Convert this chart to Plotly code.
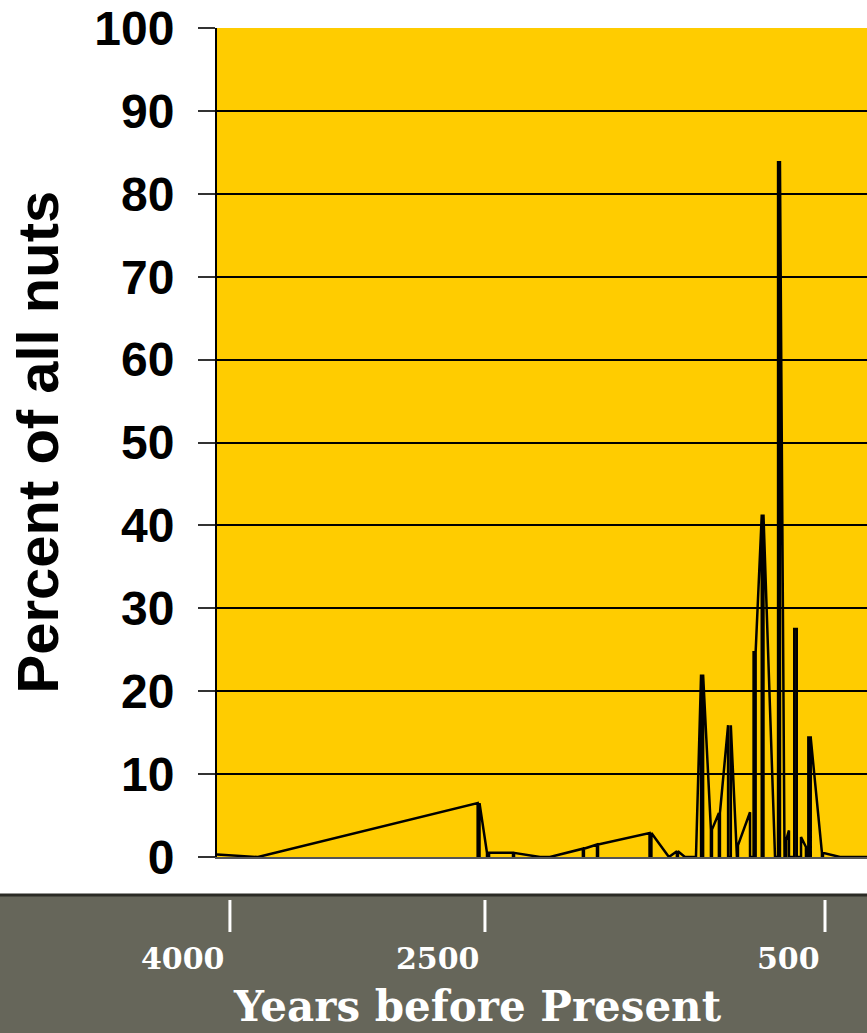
import plotly.graph_objects as go

# Nut record: years before present and percent of all nuts (polyline vertices)
years = [4076, 3835, 2543, 2543, 2532, 2532, 2488, 2488, 2476, 2476,
         2335, 2335, 2329, 2329, 2176, 2118, 1924, 1924, 1918, 1918,
         1841, 1841, 1835, 1835, 1532, 1532, 1521, 1521, 1418, 1371,
         1371, 1365, 1365, 1324, 1259, 1229, 1229, 1217, 1217, 1171,
         1171, 1165, 1165, 1124, 1124, 1118, 1118, 1070, 1070, 1054,
         1054, 1018, 1018, 1012, 1012, 941, 941, 920, 920, 908,
         908, 908, 872, 872, 862, 862, 794, 776, 776, 765,
         765, 765, 738, 729, 729, 712, 712, 681, 681, 666,
         666, 641, 641, 612, 612, 598, 598, 584, 584, 584,
         518, 518, 512, 512, 412, 253]
pct = [0.3, 0.0, 6.5, 0.0, 0.0, 6.5, 0.5, 0.0, 0.0, 0.5,
       0.5, 0.0, 0.0, 0.5, 0.0, 0.0, 1.0, 0.0, 0.0, 1.0,
       1.5, 0.0, 0.0, 1.5, 2.9, 0.0, 0.0, 2.9, 0.0, 0.7,
       0.0, 0.0, 0.7, 0.0, 0.0, 22.0, 0.0, 0.0, 22.0, 3.3,
       0.0, 0.0, 3.3, 5.3, 0.0, 0.0, 5.3, 15.9, 0.0, 0.0,
       15.9, 1.4, 0.0, 0.0, 1.4, 5.4, 0.0, 0.0, 24.7, 24.7,
       0.0, 24.7, 41.3, 0.0, 0.0, 41.3, 0.0, 0.0, 83.8, 83.8,
       0.0, 83.8, 0.0, 0.0, 2.0, 3.2, 0.0, 0.0, 27.5, 27.5,
       0.0, 0.0, 2.4, 1.2, 0.0, 0.0, 14.4, 14.4, 0.0, 14.4,
       0.5, 0.0, 0.0, 0.5, 0.0, 0.0]

tick_years = [4000, 2500, 500]
tick_labels = ["4000", "2500", "500"]

x_range = [4076, 253]

fig = go.Figure(go.Scatter(
    x=years, y=pct, mode="lines",
    line=dict(color="black", width=2.5),
    hoverinfo="skip", showlegend=False,
))

# Plot geometry in pixels, used to express band positions in paper units
W, H = 867, 1033
ML, MR, MT, MB = 217, 0, 28, 176
plot_h = H - MT - MB
plot_w = W - ML - MR


def py(pix):
    """Convert a page pixel row to paper y."""
    return (H - MB - pix) / plot_h


band_col = "#66665a"
shapes = [
    dict(type="rect", xref="paper", yref="paper",
         x0=-0.5, x1=1.2, y0=py(1040), y1=py(895),
         fillcolor=band_col, line=dict(width=0), layer="below"),
    dict(type="line", xref="paper", yref="paper",
         x0=-0.5, x1=1.2, y0=py(895), y1=py(895),
         line=dict(color="#2b2b25", width=3)),
]
annotations = []
for yr, lab in zip(tick_years, tick_labels):
    shapes.append(dict(type="line", xref="x", yref="paper",
                       x0=yr, x1=yr, y0=py(900), y1=py(932),
                       line=dict(color="white", width=3)))
    annotations.append(dict(
        x=yr, xref="x", y=py(958), yref="paper",
        text=lab, showarrow=False, xanchor="right", yanchor="middle",
        xshift=-3,
        font=dict(family="DejaVu Serif", size=30,
                  color="white", weight="bold"),
    ))

annotations.append(dict(
    x=(477 - ML) / plot_w, xref="paper", y=py(1033), yref="paper",
    text="Years before Present", showarrow=False,
    xanchor="center", yanchor="bottom",
    font=dict(family="DejaVu Serif", size=42,
              color="white", weight="bold"),
))
annotations.append(dict(
    x=(37 - ML) / plot_w, xref="paper", y=0.5, yref="paper",
    text="Percent of all nuts", showarrow=False, textangle=-90,
    xanchor="center", yanchor="middle",
    font=dict(family="Arial, Liberation Sans", size=58,
              color="black", weight="bold"),
))

fig.update_layout(
    width=W, height=H,
    margin=dict(l=ML, r=MR, t=MT, b=MB, pad=0),
    paper_bgcolor="white",
    plot_bgcolor="#FFCC00",
    shapes=shapes,
    annotations=annotations,
    xaxis=dict(range=x_range, showgrid=False, zeroline=False,
               showticklabels=False, ticks="",
               showline=True, linecolor="#555555", linewidth=2),
    yaxis=dict(range=[0, 100], dtick=10, tick0=0,
               showgrid=True, gridcolor="black", gridwidth=2,
               zeroline=False,
               showline=True, linecolor="black", linewidth=2,
               ticks="outside", ticklen=17, tickwidth=2, tickcolor="#333333",
               ticklabelstandoff=14,
               tickfont=dict(family="Arial, Liberation Sans", size=48,
                             color="black", weight="bold")),
)

fig.write_html("out.html")
